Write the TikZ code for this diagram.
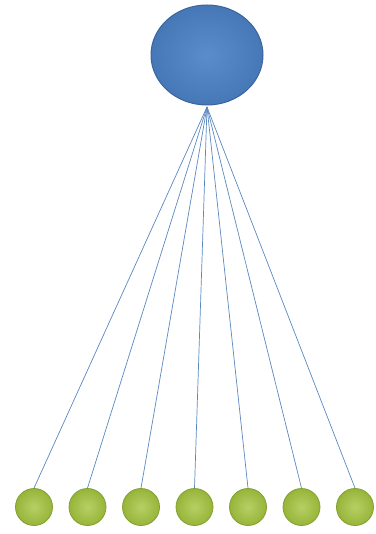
\documentclass[tikz,border=0pt]{standalone}
\usepackage{xcolor}
\usepackage{tikz}
\usetikzlibrary{shapes.geometric, positioning}

\definecolor{rootblue}{HTML}{4C82C6}
\definecolor{rootedge}{HTML}{3A659C}
\definecolor{leafgreen}{HTML}{A4C43E}
\definecolor{leafedge}{HTML}{859F30}
\definecolor{linkblue}{HTML}{5A88C0}

\begin{document}
\begin{tikzpicture}[
    x=1pt, y=-1pt,
    rootnode/.style={ellipse, minimum width=112pt, minimum height=100pt, inner sep=0pt,
        draw=rootedge, line width=1pt, inner color=rootblue!92!white, outer color=rootblue!92!black},
    leafnode/.style={circle, minimum size=37pt, inner sep=0pt,
        draw=leafedge, line width=0.8pt, inner color=leafgreen!80!white, outer color=leafgreen!92!black},
    link/.style={draw=linkblue, line width=0.7pt}
]

% Canvas
\useasboundingbox (0,0) rectangle (375,534);

% Root
\node[rootnode] (root) at (207,55) {};
\coordinate (hub) at (207,107);

% Leaves and links
\foreach \i in {0,...,6} {
    \node[leafnode] (leaf\i) at ({34+53.5*\i},507) {};
    \draw[link] (hub) -- (leaf\i.north);
}

\end{tikzpicture}
\end{document}
